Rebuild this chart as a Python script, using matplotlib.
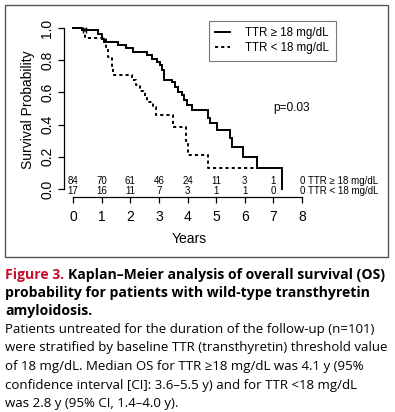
import matplotlib
matplotlib.use("Agg")
import matplotlib.pyplot as plt
from matplotlib.patches import Rectangle
from matplotlib.lines import Line2D

# ---------------- data ----------------
hi_times = [0, 0.31, 0.87, 1.01, 1.08, 1.57, 1.85, 2.10, 2.59, 2.76, 2.94, 3.04, 3.11, 3.18,
            3.46, 3.57, 3.67, 3.81, 3.88, 3.99, 4.16, 4.72, 4.79, 5.03, 5.49, 5.56, 5.94, 6.43, 7.31]
hi_surv = [1.0, 0.99, 0.96, 0.93, 0.91, 0.895, 0.876, 0.85, 0.83, 0.81, 0.79, 0.77, 0.74, 0.68,
           0.665, 0.635, 0.605, 0.585, 0.555, 0.52, 0.49, 0.44, 0.41, 0.366, 0.317, 0.26, 0.20, 0.13, 0.0]
lo_times = [0, 0.42, 1.15, 1.22, 1.35, 1.40, 2.07, 2.20, 2.35, 2.50, 2.60, 2.80, 2.90, 3.48,
            3.95, 4.00, 4.72, 6.45]
lo_surv = [1.0, 0.94, 0.88, 0.82, 0.76, 0.705, 0.68, 0.645, 0.61, 0.57, 0.54, 0.51, 0.46, 0.385,
           0.30, 0.21, 0.13, 0.13]
hi_censor_t = [0.35, 0.45]
hi_censor_s = [0.99, 0.99]

risk_times = [0, 1, 2, 3, 4, 5, 6, 7, 8]
risk_hi = [84, 70, 61, 46, 24, 11, 3, 1, 0]
risk_lo = [17, 16, 11, 7, 3, 1, 1, 0, 0]
group_labels = ["TTR \u2265 18 mg/dL", "TTR < 18 mg/dL"]
xticks = [0, 1, 2, 3, 4, 5, 6, 7, 8]
yticks = [0.0, 0.2, 0.4, 0.6, 0.8, 1.0]
p_text = "p=0.03"

# ---------------- figure ----------------
W, H = 395, 412
fig = plt.figure(figsize=(W / 100, H / 100), dpi=100)
fig.patch.set_facecolor("white")

def fx(px):
    return px / W

def fy(py):
    return 1 - py / H

# data->pixel mapping: t=0 ->73px, t=8 ->302px ; S=1 ->28px, S=0 ->189px
xpx = (302 - 73) / 8.0
ypx = 189 - 28
xl = (-0.45, 8.6)
yl = (-0.07, 1.05)
left = 73 + xl[0] * xpx
right = 73 + xl[1] * xpx
top = 189 - yl[1] * ypx
bottom = 189 - yl[0] * ypx
ax = fig.add_axes([fx(left), fy(bottom), fx(right - left), (bottom - top) / H])
ax.set_xlim(*xl)
ax.set_ylim(*yl)
ax.patch.set_alpha(0)

sans = ["Liberation Sans", "DejaVu Sans"]
dash = (0, (1.6, 1.6))

ax.step(hi_times, hi_surv, where="post", color="black", lw=1.4, solid_joinstyle="miter")
ax.step(lo_times, lo_surv, where="post", color="black", lw=1.4, linestyle=dash)
ax.plot(hi_censor_t, hi_censor_s, linestyle="none", marker="|", color="black", ms=4, mew=1)

for sp in ["top", "right"]:
    ax.spines[sp].set_visible(False)
ax.spines["left"].set_position(("data", -0.31))
ax.spines["left"].set_bounds(0, 1)
ax.spines["bottom"].set_position(("data", -0.05))
ax.spines["bottom"].set_bounds(0, 8)
for sp in ["left", "bottom"]:
    ax.spines[sp].set_linewidth(0.9)
ax.set_xticks(xticks)
ax.set_yticks(yticks)
ax.set_yticklabels([f"{v:.1f}" for v in yticks], rotation=90, va="center", family=sans, fontsize=10)
ax.set_xticklabels([str(v) for v in xticks], family=sans, fontsize=10)
ax.tick_params(axis="both", direction="out", length=4, width=0.9, pad=3)
ax.tick_params(axis="x", pad=5)
ax.set_xlabel("Years", family=sans, fontsize=10, labelpad=6)
ax.set_ylabel("Survival Probability", family=sans, fontsize=10, labelpad=4)

row1, row2 = 0.047, -0.015
rsize = 7.0
for t, a, b in zip(risk_times, risk_hi, risk_lo):
    ax.text(t, row1, str(a), ha="center", va="center", fontsize=rsize, family=sans, clip_on=False)
    ax.text(t, row2, str(b), ha="center", va="center", fontsize=rsize, family=sans, clip_on=False)
ax.text(8.2, row1, group_labels[0], ha="left", va="center", fontsize=rsize, family=sans, clip_on=False)
ax.text(8.2, row2, group_labels[1], ha="left", va="center", fontsize=rsize, family=sans, clip_on=False)

ax.text(7.0, 0.50, p_text, ha="left", va="center", fontsize=8.6, family=sans)

handles = [Line2D([], [], color="black", lw=1.4),
           Line2D([], [], color="black", lw=1.4, linestyle=dash)]
leg = ax.legend(handles, group_labels, loc="upper left",
                bbox_to_anchor=(fx(209), fy(21)), bbox_transform=fig.transFigure,
                prop={"family": sans, "size": 8.3}, frameon=True, fancybox=False,
                handlelength=1.3, handletextpad=1.3, borderpad=0.55, labelspacing=0.25,
                borderaxespad=0)
leg.get_frame().set_edgecolor("#555555")
leg.get_frame().set_linewidth(0.8)

# outer figure box
fig.patches.append(Rectangle((fx(5), fy(257)), fx(388 - 5), (257 - 5) / H,
                             transform=fig.transFigure, fill=False,
                             edgecolor="#555555", lw=1.0))

# ---------------- caption ----------------
cap = ["Open Sans", "DejaVu Sans"]
red = "#c8102e"
bsize = 10.1
nsize = 9.55
t1 = fig.text(fx(5), fy(279), "Figure 3.", color=red, fontweight="bold",
              fontsize=bsize, family=cap, va="baseline")
fig.canvas.draw()
bb = t1.get_window_extent()
fig.text(bb.x1 / W + fx(3.5), fy(279), "Kaplan\u2013Meier analysis of overall survival (OS)",
         fontweight="bold", fontsize=bsize, family=cap, va="baseline")
bold_lines = ["probability for patients with wild-type transthyretin", "amyloidosis."]
for i, s in enumerate(bold_lines):
    fig.text(fx(5), fy(297 + 18 * i), s, fontweight="bold", fontsize=bsize, family=cap, va="baseline")
normal_lines = [
    "Patients untreated for the duration of the follow-up (n=101)",
    "were stratified by baseline TTR (transthyretin) threshold value",
    "of 18 mg/dL. Median OS for TTR \u226518 mg/dL was 4.1 y (95%",
    "confidence interval [CI]: 3.6\u20135.5 y) and for TTR <18 mg/dL",
    "was 2.8 y (95% CI, 1.4\u20134.0 y).",
]
for i, s in enumerate(normal_lines):
    fig.text(fx(5), fy(333 + 18.5 * i), s, fontsize=nsize, family=cap, va="baseline")

fig.savefig("out.png", dpi=100)
